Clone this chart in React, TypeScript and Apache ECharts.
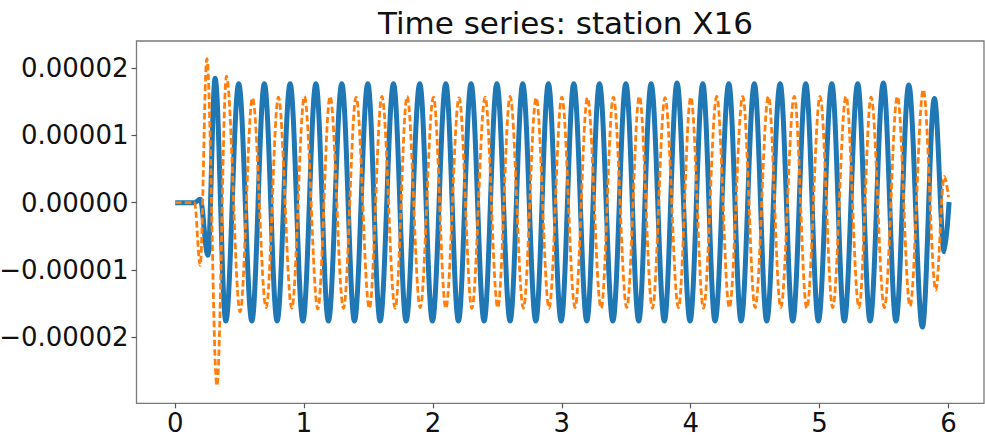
import React, { useEffect, useRef } from "react";
import * as echarts from "echarts";

const TITLE = "Time series: station X16";
const X_TICKS = [0, 1, 2, 3, 4, 5, 6];
const Y_TICKS = [-2e-5, -1e-5, 0, 1e-5, 2e-5];
const VALUE_UNIT = 1e-5;

// Blue (solid) series: times of turning points (s) and values (×1e-5)
const blueTimes = [
  0, 0.15, 0.194, 0.254, 0.31, 0.393, 0.493, 0.595, 0.692, 0.791, 0.892, 0.991,
  1.092, 1.189, 1.293, 1.391, 1.495, 1.59, 1.694, 1.792, 1.898, 1.996, 2.1, 2.198,
  2.296, 2.397, 2.496, 2.599, 2.697, 2.798, 2.896, 2.995, 3.093, 3.194, 3.292,
  3.396, 3.497, 3.597, 3.693, 3.796, 3.894, 3.995, 4.094, 4.189, 4.296, 4.391,
  4.494, 4.59, 4.694, 4.792, 4.893, 4.991, 5.095, 5.192, 5.296, 5.392, 5.495,
  5.593, 5.692, 5.798, 5.891, 5.968, 6.005,
];
const blueValues = [
  0, 0, 0.05, -0.78, 1.85, -1.76, 1.77, -1.76, 1.77, -1.76, 1.77, -1.76,
  1.77, -1.76, 1.77, -1.76, 1.77, -1.76, 1.77, -1.76, 1.77, -1.76, 1.77, -1.76,
  1.77, -1.76, 1.77, -1.76, 1.77, -1.76, 1.77, -1.76, 1.77, -1.76, 1.77,
  -1.76, 1.77, -1.76, 1.77, -1.76, 1.78, -1.76, 1.77, -1.76, 1.77, -1.76,
  1.77, -1.76, 1.77, -1.76, 1.77, -1.76, 1.77, -1.76, 1.77, -1.76, 1.78,
  -1.76, 1.75, -1.85, 1.55, -0.73, 0.01,
];

// Orange (dashed) series: times of turning points (s) and values (×1e-5)
const orangeTimes = [
  0, 0.15, 0.194, 0.246, 0.324, 0.398, 0.504, 0.6, 0.706, 0.801, 0.905, 1.003,
  1.107, 1.202, 1.306, 1.404, 1.507, 1.604, 1.707, 1.8, 1.901, 2.004, 2.1, 2.203,
  2.302, 2.405, 2.503, 2.599, 2.702, 2.801, 2.901, 3.0, 3.103, 3.199, 3.305, 3.4,
  3.504, 3.602, 3.703, 3.801, 3.905, 4.001, 4.099, 4.202, 4.3, 4.404, 4.5, 4.603,
  4.699, 4.804, 4.901, 5.004, 5.102, 5.205, 5.306, 5.4, 5.503, 5.604, 5.702,
  5.805, 5.902, 5.968, 6.001,
];
const orangeValues = [
  0, 0, -0.93, 2.14, -2.72, 1.88, -1.62, 1.56, -1.56, 1.57, -1.57, 1.58,
  -1.58, 1.58, -1.57, 1.57, -1.57, 1.58, -1.57, 1.58, -1.56, 1.57, -1.57, 1.56,
  -1.57, 1.57, -1.56, 1.58, -1.57, 1.56, -1.57, 1.57, -1.56, 1.56, -1.57, 1.57,
  -1.56, 1.58, -1.57, 1.56, -1.56, 1.57, -1.57, 1.58, -1.56, 1.58, -1.56, 1.58,
  -1.56, 1.58, -1.57, 1.58, -1.56, 1.58, -1.56, 1.57, -1.56, 1.58, -1.54,
  1.68, -1.3, 0.39, 0.08,
];

const FONT = "DejaVu Sans";

function fmtY(v: number): string {
  const s = Math.abs(v).toFixed(5);
  return v < -1e-12 ? "\u2212" + s : s;
}

export default function App() {
  const ref = useRef<HTMLDivElement>(null);

  useEffect(() => {
    if (!ref.current) return;
    const chart = echarts.init(ref.current, null, { renderer: "svg" });

    const blueData = blueTimes.map((t, i) => [t, blueValues[i] * VALUE_UNIT]);
    const orangeData = orangeTimes.map((t, i) => [t, orangeValues[i] * VALUE_UNIT]);

    chart.setOption({
      animation: false,
      backgroundColor: "#ffffff",
      title: {
        text: TITLE,
        left: 560.5,
        top: 2,
        textAlign: "center",
        textStyle: {
          fontFamily: FONT,
          fontSize: 31,
          fontWeight: "normal",
          color: "#111111",
        },
      },
      grid: {
        left: 136.5,
        right: 1,
        top: 41,
        bottom: 33.7,
        show: true,
        borderColor: "#7a7a7a",
        borderWidth: 1.3,
        backgroundColor: "transparent",
        containLabel: false,
        outerBoundsMode: "none",
      },
      xAxis: {
        type: "value",
        position: "bottom",
        min: -0.3,
        max: 6.276,
        axisLine: { show: false, onZero: false },
        splitLine: { show: false },
        axisTick: {
          show: true,
          customValues: X_TICKS,
          length: 5,
          inside: false,
          lineStyle: { color: "#555555", width: 1.2 },
        },
        axisLabel: {
          customValues: X_TICKS,
          fontFamily: FONT,
          fontSize: 26,
          color: "#111111",
          margin: 7,
          formatter: (v: number) => String(Math.round(v)),
        },
      },
      yAxis: {
        type: "value",
        position: "left",
        min: -2.983e-5,
        max: 2.404e-5,
        axisLine: { show: false, onZero: false },
        splitLine: { show: false },
        axisTick: {
          show: true,
          customValues: Y_TICKS,
          length: 5,
          inside: false,
          lineStyle: { color: "#555555", width: 1.2 },
        },
        axisLabel: {
          customValues: Y_TICKS,
          fontFamily: FONT,
          fontSize: 26,
          color: "#111111",
          margin: 8,
          formatter: (v: number) => fmtY(v),
        },
      },
      series: [
        {
          type: "line",
          data: blueData,
          showSymbol: false,
          smooth: 0.36,
          smoothMonotone: "x",
          lineStyle: { color: "#1f77b4", width: 5 },
          z: 2,
        },
        {
          type: "line",
          data: orangeData,
          showSymbol: false,
          smooth: 0.36,
          smoothMonotone: "x",
          lineStyle: { color: "#ff7f0e", width: 2.8, type: [6.5, 3] },
          z: 3,
        },
      ],
    });

    return () => {
      chart.dispose();
    };
  }, []);

  return (
    <div
      ref={ref}
      style={{ position: "absolute", left: 0, top: 0, width: 985, height: 437 }}
    />
  );
}
